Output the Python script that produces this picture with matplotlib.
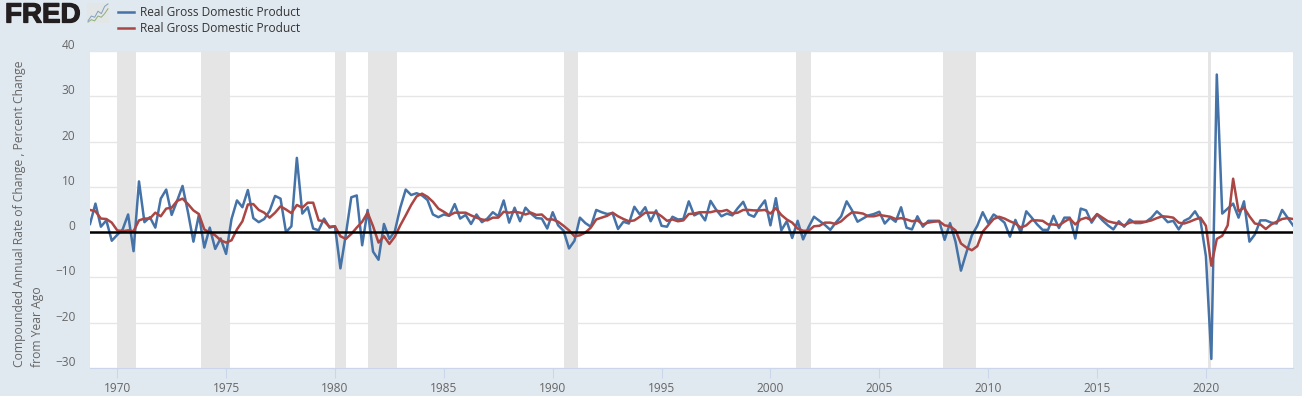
import numpy as np
from matplotlib import pyplot as plt
from matplotlib import patheffects
from matplotlib.transforms import ScaledTranslation

# quarterly, 1968Q4 to 2024Q1, first row and last row are single quarters
gdp_change = [
    1.8,
    6.3, 1.2, 2.6, -1.9,
    -0.6, 0.6, 3.9, -4.2,
    11.2, 2.2, 3.3, 1.0,
    7.4, 9.4, 3.8, 6.9,
    10.2, 4.4, -2.1, 3.8,
    -3.4, 1.0, -3.7, -1.4,
    -4.8, 2.9, 7.0, 5.5,
    9.3, 3.1, 2.2, 2.9,
    4.7, 8.0, 7.4, 0.0,
    1.3, 16.4, 4.1, 5.5,
    0.8, 0.4, 3.0, 1.0,
    1.3, -8.0, -0.5, 7.7,
    8.1, -2.9, 4.9, -4.3,
    -6.1, 1.8, -1.5, 0.2,
    5.4, 9.4, 8.2, 8.6,
    8.1, 7.1, 3.9, 3.3,
    3.9, 3.6, 6.2, 3.0,
    3.8, 1.8, 3.9, 2.2,
    3.0, 4.4, 3.5, 7.0,
    2.1, 5.4, 2.4, 5.4,
    4.1, 3.1, 3.0, 0.8,
    4.4, 1.5, 0.3, -3.6,
    -1.9, 3.2, 2.0, 1.2,
    4.9, 4.4, 4.0, 4.2,
    0.7, 2.3, 1.9, 5.6,
    3.9, 5.5, 2.4, 4.8,
    1.4, 1.2, 3.4, 2.8,
    2.9, 6.8, 3.7, 4.3,
    2.6, 6.9, 5.0, 3.5,
    4.1, 3.7, 5.3, 6.7,
    3.9, 3.4, 5.4, 7.0,
    1.5, 7.5, 0.4, 2.4,
    -1.3, 2.5, -1.6, 1.1,
    3.4, 2.5, 1.6, 0.5,
    2.1, 3.5, 6.8, 4.8,
    2.3, 3.0, 3.7, 4.0,
    4.5, 1.9, 3.2, 2.3,
    5.5, 1.0, 0.6, 3.5,
    1.2, 2.5, 2.5, 2.5,
    -1.7, 2.0, -2.1, -8.5,
    -4.5, -0.7, 1.4, 4.4,
    2.0, 3.9, 3.1, 2.1,
    -1.0, 2.7, -0.1, 4.6,
    3.2, 1.7, 0.5, 0.5,
    3.6, 0.9, 3.2, 3.2,
    -1.4, 5.2, 4.8, 2.1,
    3.9, 2.6, 1.5, 0.6,
    2.4, 1.2, 2.8, 2.0,
    2.0, 2.3, 3.2, 4.6,
    3.5, 2.2, 2.5, 0.6,
    2.5, 3.1, 4.6, 2.6,
    -5.3, -28.0, 34.8, 4.1,
    5.2, 6.3, 3.2, 6.8,
    -2.1, -0.5, 2.6, 2.6,
    2.1, 1.9, 4.9, 3.2,
    1.5,
]

gdp_year_ago = [
    4.9,
    4.6, 3.0, 2.9, 2.1,
    0.4, 0.2, 0.4, 0.2,
    2.6, 3.0, 3.0, 4.3,
    3.5, 5.2, 5.4, 6.9,
    7.4, 6.2, 4.8, 4.0,
    0.6, -0.1, -0.7, -1.8,
    -2.3, -1.8, 0.6, 2.4,
    6.1, 6.2, 4.9, 4.3,
    3.2, 4.3, 5.7, 5.0,
    4.2, 6.0, 5.4, 6.5,
    6.5, 2.6, 2.4, 1.2,
    1.3, -0.9, -1.5, -0.4,
    1.0, 2.3, 4.3, 1.3,
    -2.3, -0.9, -2.6, -1.0,
    1.5, 3.7, 6.0, 7.9,
    8.5, 7.8, 6.7, 5.2,
    4.5, 3.7, 4.3, 4.3,
    4.3, 3.7, 3.2, 2.8,
    2.6, 3.2, 3.2, 4.5,
    4.3, 4.5, 4.3, 3.9,
    4.3, 3.8, 3.9, 2.8,
    2.8, 2.3, 1.4, 0.4,
    -0.9, -0.7, -0.1, 1.0,
    2.8, 3.2, 3.6, 4.3,
    3.5, 2.9, 2.4, 2.6,
    3.4, 4.3, 4.3, 4.3,
    3.5, 2.5, 2.8, 2.4,
    2.6, 4.0, 4.1, 4.4,
    4.4, 4.4, 4.7, 4.6,
    4.9, 4.1, 4.3, 4.9,
    4.9, 4.8, 4.8, 4.9,
    4.1, 5.3, 3.8, 2.8,
    2.1, 0.8, 0.3, 0.3,
    1.3, 1.4, 2.1, 2.1,
    1.8, 2.4, 3.5, 4.4,
    4.3, 4.1, 3.5, 3.5,
    3.8, 3.6, 3.4, 2.9,
    3.1, 2.8, 2.4, 2.6,
    1.7, 2.1, 2.3, 2.4,
    1.5, 1.3, 0.4, -2.5,
    -3.4, -4.0, -3.1, 0.1,
    1.5, 2.9, 3.4, 3.0,
    2.4, 1.9, 1.0, 1.5,
    2.6, 2.6, 2.5, 1.7,
    1.7, 1.5, 2.3, 3.0,
    1.7, 2.8, 3.2, 2.6,
    4.0, 3.2, 2.4, 2.1,
    1.9, 1.5, 2.1, 2.3,
    2.3, 2.3, 2.6, 3.1,
    3.5, 3.4, 3.2, 2.1,
    1.9, 2.3, 2.8, 3.2,
    1.4, -7.4, -1.5, -0.8,
    1.5, 11.8, 4.6, 5.4,
    3.5, 1.9, 1.7, 0.7,
    1.7, 2.3, 2.9, 3.1,
    2.9,
]

first_quarter = 1968.75
recessions = [(1969.98, 1970.86), (1973.83, 1975.17), (1980.0, 1980.5), (1981.5, 1982.86),
              (1990.5, 1991.17), (2001.17, 2001.86), (2007.92, 2009.42), (2020.08, 2020.25)]
year_ticks = list(range(1970, 2021, 5))
value_ticks = [-30, -20, -10, 0, 10, 20, 30, 40]

# little chart icon next to the logo
icon_blue = [1, 3, 2.5, 5, 4, 7, 8]
icon_green = [0.5, 1.5, 1, 3, 2.5, 4, 6]

BACK = "#e1e9f0"
BLUE = "#4572a7"
RED = "#aa4643"
TEXT = "#666666"
W, H = 1302, 396

plt.rcParams['font.family'] = ['Open Sans', 'DejaVu Sans']

quarters = first_quarter + np.arange(len(gdp_change)) * 0.25

fig = plt.figure(figsize=(W / 100, H / 100), dpi=100, facecolor=BACK)
ax = fig.add_axes([90 / W, 1 - 368 / H, (1293 - 90) / W, (368 - 51) / H])
ax.set_facecolor("white")

for start, end in recessions:
    ax.axvspan(start, end, facecolor="#e5e5e5", edgecolor="none", zorder=1)

line1, = ax.plot(quarters, gdp_change, color=BLUE, lw=1.8, zorder=3, label="Real Gross Domestic Product")
line2, = ax.plot(quarters, gdp_year_ago, color=RED, lw=1.8, zorder=4, label="Real Gross Domestic Product")
ax.axhline(0, color="black", lw=1.8, zorder=5)

ax.set_xlim(first_quarter, quarters[-1])
ax.set_ylim(-30, 40)
ax.set_xticks(year_ticks)
ax.set_yticks(value_ticks)
ax.grid(axis="y", color="#e6e6e6", lw=1)
ax.set_axisbelow(True)
for side in ["top", "left", "right"]:
    ax.spines[side].set_visible(False)
ax.spines["bottom"].set_color("#ccd6eb")
ax.tick_params(axis="x", length=7, color="#ccd6eb", labelcolor=TEXT, labelsize=8.6, pad=3)
ax.tick_params(axis="y", length=0, labelcolor=TEXT, labelsize=8.6, pad=10.5)
down_1px = ScaledTranslation(0, -1 / 100, fig.dpi_scale_trans)
for label in ax.get_yticklabels():
    label.set_verticalalignment("bottom")
    label.set_transform(label.get_transform() + down_1px)

fig.text(13 / W, 1 - 367 / H, "Compounded Annual Rate of Change , Percent Change\nfrom Year Ago",
         rotation=90, ha="left", va="bottom", multialignment="left", color=TEXT, fontsize=8.75, linespacing=1.45)

fig.legend(handles=[line1, line2], loc="upper left", bbox_to_anchor=(114 / W, 1 - 2.5 / H), frameon=False,
           fontsize=8.6, labelcolor="#333333", handlelength=1.35, handletextpad=0.55, labelspacing=0.28,
           borderpad=0.3, borderaxespad=0)

# logo
logo = fig.text(5 / W, 1 - 22.5 / H, "FRED", family=["Liberation Sans"], weight="bold", fontsize=20,
                color="#231f20", va="baseline")
logo.set_path_effects([patheffects.withStroke(linewidth=0.9, foreground="#231f20")])
icon = fig.add_axes([87 / W, 1 - 23 / H, 22 / W, 20 / H])
icon.set_facecolor("#e3e6e6")
icon.plot(icon_blue, color="#7f9fc0", lw=0.7)
icon.plot(icon_green, color="#8fae7a", lw=0.7)
icon.set_xticks([])
icon.set_yticks([])
for side in icon.spines.values():
    side.set_visible(False)

fig.savefig("out.png", dpi=100, facecolor=BACK)
